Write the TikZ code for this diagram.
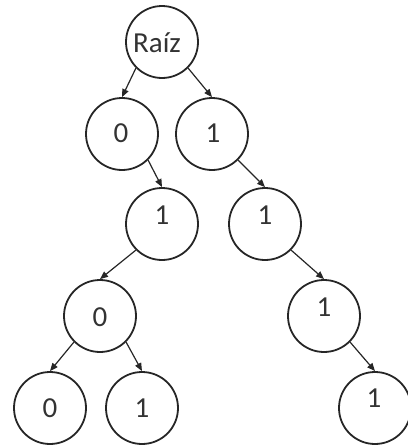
\documentclass[tikz,border=0pt]{standalone}
\usepackage{fontspec}
\setmainfont{Carlito}
\usetikzlibrary{arrows.meta}
\begin{document}
\begin{tikzpicture}[x=1pt,y=-1pt,
  nd/.style={circle,draw=black!85,line width=1.8pt,minimum size=72pt,inner sep=0pt},
  txt/.style={anchor=base,font=\fontsize{29}{30}\selectfont,text=black!80,inner sep=0pt},
  edge/.style={draw=black!85,line width=1.2pt,-{Triangle[length=8pt,width=6.5pt]}}]
\useasboundingbox (0,0) rectangle (407,447);
\node[nd] (r) at (162,42) {};
\node[nd] (a0) at (122,134) {};
\node[nd] (a1) at (212,134) {};
\node[nd] (b1) at (162,224) {};
\node[nd] (c1) at (265,224) {};
\node[nd] (b0) at (100,316) {};
\node[nd] (d1) at (324,316) {};
\node[nd] (e0) at (50,408) {};
\node[nd] (e1) at (142,408) {};
\node[nd] (f1) at (375,408) {};
\node[txt] (tr) at (157,52) {Raíz};
\node[txt] (ta0) at (121,142) {0};
\node[txt] (ta1) at (213,142) {1};
\node[txt] (tb1) at (162,224) {1};
\node[txt] (tc1) at (265,224) {1};
\node[txt] (tb0) at (100,326) {0};
\node[txt] (td1) at (324,316) {1};
\node[txt] (te0) at (50,417) {0};
\node[txt] (te1) at (142,417) {1};
\node[txt] (tf1) at (374,407) {1};
\draw[edge] (r.south west) -- (a0.north);
\draw[edge] (r.south east) -- (a1.north);
\draw[edge] (a0.south east) -- (b1.north);
\draw[edge] (a1.south east) -- (c1.north);
\draw[edge] (b1.south west) -- (b0.north);
\draw[edge] (c1.south east) -- (d1.north);
\draw[edge] (b0.south west) -- (e0.north);
\draw[edge] (b0.south east) -- (e1.north);
\draw[edge] (d1.south east) -- (f1.north);
\end{tikzpicture}
\end{document}
